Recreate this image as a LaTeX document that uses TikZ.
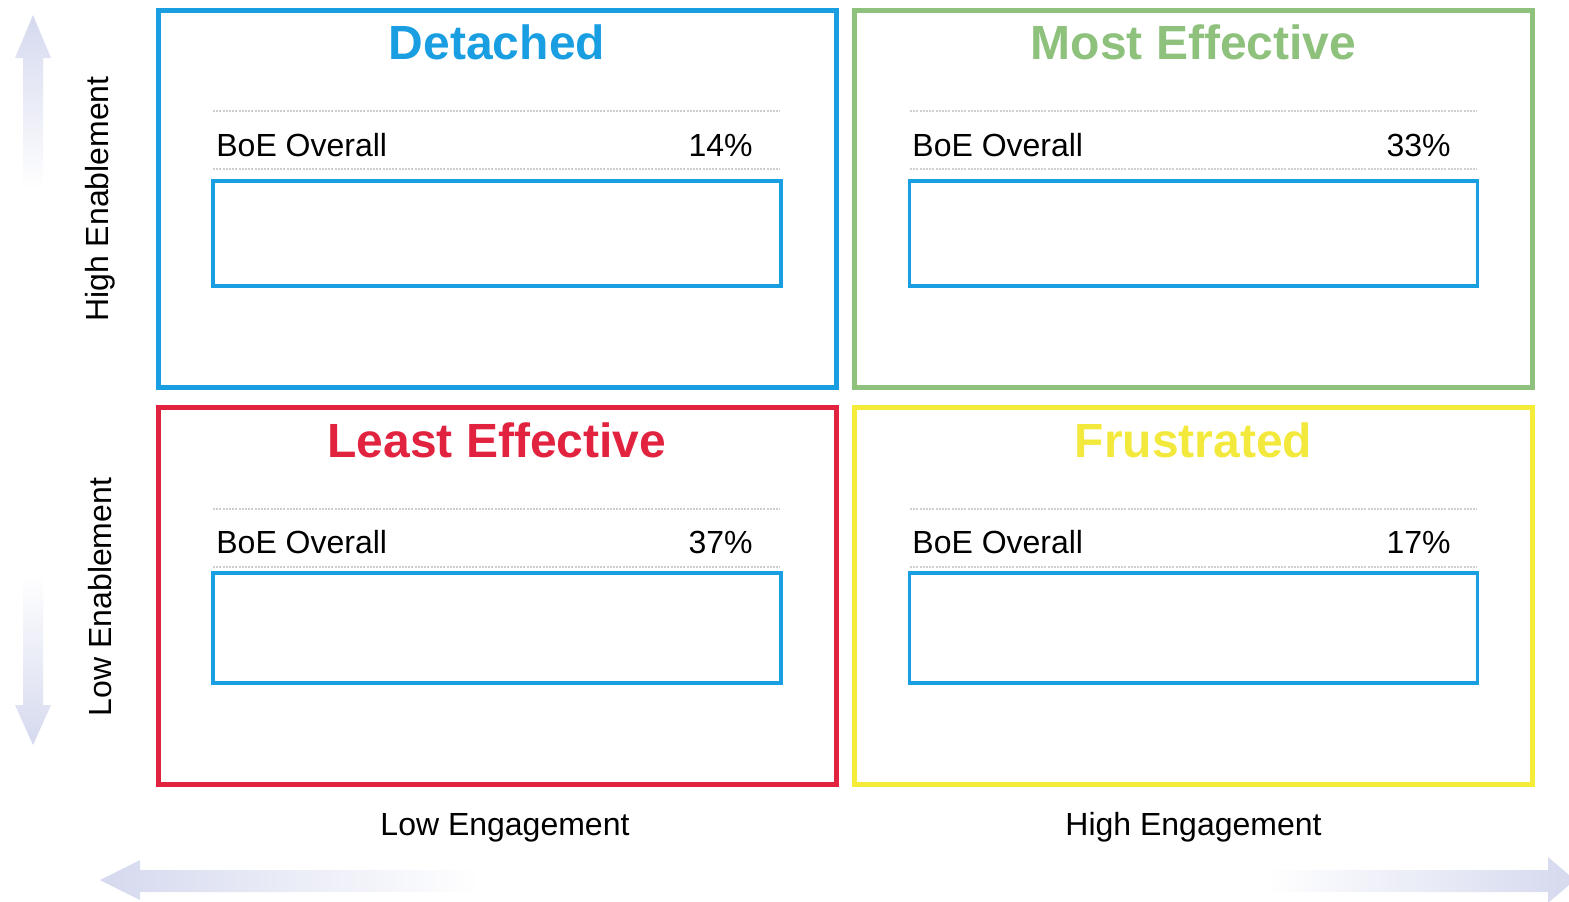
\documentclass[tikz,border=0pt]{standalone}
\usepackage{fontspec}
\setmainfont{Liberation Sans}
\definecolor{qblue}{HTML}{1A9EE2}
\definecolor{qgreen}{HTML}{8DC17C}
\definecolor{qred}{HTML}{E2233F}
\definecolor{qyellow}{HTML}{F5EC3A}
\definecolor{qytitle}{HTML}{F3E93C}
\definecolor{lav}{HTML}{D5D9EE}
\definecolor{dotgrey}{HTML}{CFCFCF}
\tikzset{
  quad/.style={draw, line width=2.5pt, minimum width=339pt, minimum height=188.5pt, inner sep=0pt},
  qtitle/.style={font=\bfseries\fontsize{24}{28}\selectfont, inner sep=0pt},
  innerbox/.style={draw=qblue, line width=1.6pt, minimum width=284pt, minimum height=52.5pt, inner sep=0pt},
  boe/.style={font=\fontsize{16}{19}\selectfont, inner sep=0pt},
  axislabel/.style={font=\fontsize{16}{19}\selectfont, inner sep=0pt},
  dotline/.style={dotgrey, line width=0.6pt, dash pattern=on 1pt off 0.6pt},
}
\begin{document}
\begin{tikzpicture}[x=0.5pt,y=-0.5pt]
\useasboundingbox (0,0) rectangle (1569,901);
% axis arrows
\shade[top color=lav, bottom color=white] (23,190) -- (23,58) -- (15,58) -- (33,15) -- (51,58) -- (43,58) -- (43,190) -- cycle;
\shade[top color=white, bottom color=lav] (23,575) -- (23,705) -- (15,705) -- (33,745) -- (51,705) -- (43,705) -- (43,575) -- cycle;
\shade[left color=lav, right color=white] (480,870) -- (140,870) -- (140,860) -- (100,880) -- (140,900) -- (140,892) -- (480,892) -- cycle;
\shade[left color=white, right color=lav] (1265,870) -- (1548,870) -- (1548,857) -- (1575,880) -- (1548,903) -- (1548,892) -- (1265,892) -- cycle;
% quadrants
\node[quad, draw=qblue] (det) at (497,198.5) {};
\node[quad, draw=qgreen] (most) at (1193.5,198.5) {};
\node[quad, draw=qred] (least) at (497,596) {};
\node[quad, draw=qyellow] (frus) at (1193.5,596) {};
% titles
\node[qtitle, text=qblue] (detT) at (497,42) {Detached};
\node[qtitle, text=qgreen] (mostT) at (1193.5,42) {Most Effective};
\node[qtitle, text=qred] (leastT) at (497,440) {Least Effective};
\node[qtitle, text=qytitle] (frusT) at (1193.5,440) {Frustrated};
% dotted rules
\draw[dotline] (213,111) -- (780,111);
\draw[dotline] (213,169) -- (780,169);
\draw[dotline] (910,111) -- (1477,111);
\draw[dotline] (910,169) -- (1477,169);
\draw[dotline] (213,509) -- (780,509);
\draw[dotline] (213,567) -- (780,567);
\draw[dotline] (910,509) -- (1477,509);
\draw[dotline] (910,567) -- (1477,567);
% BoE rows
\node[boe, anchor=base west] (detB) at (216,156) {BoE Overall};
\node[boe, anchor=base east] (detP) at (753,156) {14\%};
\node[boe, anchor=base west] (mostB) at (912,156) {BoE Overall};
\node[boe, anchor=base east] (mostP) at (1451,156) {33\%};
\node[boe, anchor=base west] (leastB) at (216,553) {BoE Overall};
\node[boe, anchor=base east] (leastP) at (753,553) {37\%};
\node[boe, anchor=base west] (frusB) at (912,553) {BoE Overall};
\node[boe, anchor=base east] (frusP) at (1451,553) {17\%};
% inner boxes
\node[innerbox] (detI) at (497,233.5) {};
\node[innerbox] (mostI) at (1193.5,233.5) {};
\node[innerbox, minimum height=55pt] (leastI) at (497,628) {};
\node[innerbox, minimum height=55pt] (frusI) at (1193.5,628) {};
% axis labels
\node[axislabel, rotate=90] (hiEn) at (100,199) {High Enablement};
\node[axislabel, rotate=90] (loEn) at (100,597) {Low Enablement};
\node[axislabel, anchor=base] (loEg) at (505,835) {Low Engagement};
\node[axislabel, anchor=base] (hiEg) at (1193.5,835) {High Engagement};
\end{tikzpicture}
\end{document}
